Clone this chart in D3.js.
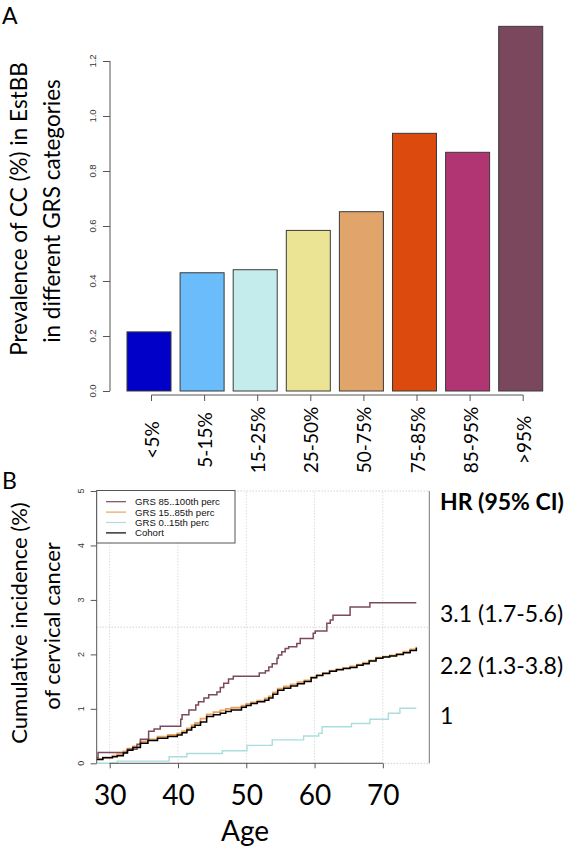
<!DOCTYPE html>
<html><head><meta charset="utf-8">
<script src="https://cdn.jsdelivr.net/npm/d3@7/dist/d3.min.js"></script>
<style>
html,body{margin:0;padding:0;background:#fff;}
svg{display:block;}
</style></head>
<body>
<svg id="chart" width="578" height="849"></svg>
<script>
// ---------- Panel A data ----------
const categories = ["<5%","5-15%","15-25%","25-50%","50-75%","75-85%","85-95%",">95%"];
const prevalence = [0.215,0.430,0.441,0.584,0.652,0.937,0.868,1.326];
const barColors = ["#0000C8","#6BBCFA","#C4ECEC","#EBE494","#E1A56B","#DD4A0E","#B03572","#7B475C"];
const yTicksA = [0,0.2,0.4,0.6,0.8,1.0,1.2];

// ---------- Panel B data ----------
const seriesNames = ["GRS 85..100th perc","GRS 15..85th perc","GRS 0..15th perc","Cohort"];
const seriesColors = ["#7B4A5E","#E9A35E","#A9DEDC","#000000"];
const highGRS = [[28.1,0.10],[28.3,0.20],[32.6,0.26],[34.0,0.35],[34.5,0.44],[35.7,0.59],[36.5,0.63],[37.4,0.68],[40.4,0.81],[40.6,0.89],[41.6,0.98],[42.6,1.07],[43.0,1.13],[43.8,1.20],[44.5,1.26],[45.7,1.31],[46.2,1.39],[46.7,1.47],[47.4,1.55],[48.1,1.60],[51.9,1.66],[52.8,1.70],[53.3,1.77],[53.8,1.83],[54.5,1.93],[54.7,1.99],[55.2,2.05],[55.7,2.11],[56.2,2.14],[57.4,2.20],[57.9,2.29],[59.8,2.39],[60.1,2.43],[61.8,2.57],[62.3,2.63],[62.7,2.72],[65.2,2.87],[68.1,2.95],[74.9,2.95]];
const midGRS = [[28.1,0.08],[29.0,0.11],[30.4,0.14],[31.1,0.17],[32.0,0.22],[32.6,0.27],[33.4,0.31],[34.5,0.40],[35.6,0.44],[37.0,0.49],[38.5,0.52],[39.9,0.55],[40.6,0.59],[41.3,0.64],[42.0,0.70],[42.5,0.74],[43.3,0.82],[44.2,0.90],[45.2,0.94],[46.2,0.97],[47.0,1.00],[47.8,1.02],[49.3,1.06],[50.0,1.09],[50.7,1.12],[51.6,1.15],[52.7,1.19],[53.3,1.23],[53.9,1.30],[54.6,1.37],[55.5,1.41],[56.5,1.45],[57.5,1.49],[58.5,1.52],[59.5,1.58],[60.3,1.62],[61.2,1.66],[62.2,1.70],[63.2,1.73],[64.2,1.75],[65.2,1.78],[66.2,1.81],[67.1,1.85],[68.0,1.89],[69.0,1.94],[70.0,1.96],[71.0,1.98],[72.0,2.01],[73.0,2.05],[74.0,2.09],[74.9,2.14]];
const lowGRS = [[28.1,0.00],[31.1,0.04],[38.7,0.12],[41.3,0.18],[46.5,0.23],[50.1,0.33],[53.8,0.43],[58.4,0.50],[60.6,0.55],[61.1,0.67],[65.4,0.73],[68.1,0.81],[70.8,0.92],[72.5,1.01],[74.9,1.01]];
const cohort = [[28.1,0.07],[29.0,0.10],[30.4,0.12],[31.1,0.14],[32.0,0.19],[32.6,0.24],[33.4,0.29],[34.5,0.37],[35.6,0.42],[37.0,0.46],[38.5,0.49],[39.9,0.52],[40.6,0.56],[41.3,0.61],[42.0,0.66],[42.5,0.70],[43.3,0.76],[44.2,0.86],[45.2,0.89],[46.2,0.92],[47.0,0.95],[47.8,0.98],[49.3,1.03],[50.0,1.06],[50.7,1.10],[51.6,1.13],[52.7,1.16],[53.3,1.20],[53.9,1.27],[54.6,1.34],[55.5,1.38],[56.5,1.42],[57.5,1.46],[58.5,1.50],[59.5,1.57],[60.3,1.61],[61.2,1.65],[62.2,1.69],[63.2,1.72],[64.2,1.74],[65.2,1.76],[66.2,1.80],[67.1,1.83],[68.0,1.88],[69.0,1.93],[70.0,1.95],[71.0,1.97],[72.0,2.00],[73.0,2.03],[74.0,2.07],[74.9,2.12]];
const xTicksB = [30,40,50,60,70];
const yTicksB = [0,1,2,3,4,5];
const gridYB = [0,2.5,5];
const hrLabels = ["HR (95% CI)","3.1 (1.7-5.6)","2.2 (1.3-3.8)","1"];

const svg = d3.select("#chart");
const titleFont = "Lato, 'Open Sans', sans-serif";
const smallFont = "'Liberation Sans', Arial, sans-serif";

function rtext(g, x, y, txt, size, opts={}) {
  return g.append("text")
    .attr("transform", `translate(${x},${y}) rotate(-90)`)
    .attr("text-anchor", opts.anchor || "middle")
    .attr("dominant-baseline", "central")
    .attr("font-family", opts.font || titleFont)
    .attr("font-size", size)
    .attr("font-weight", opts.weight || "normal")
    .attr("fill", opts.fill || "#000")
    .text(txt);
}

// ================= Panel A =================
const gA = svg.append("g");
gA.append("text").attr("x", 2).attr("y", 24).attr("font-family", titleFont).attr("font-size", 23).text("A");

const xA = d3.scaleBand().domain(categories).range([122.45, 547.25]).paddingInner(0.171).paddingOuter(0.0855);
const yA = d3.scaleLinear().domain([0, 1.2]).range([391, 61]);

gA.selectAll("rect.bar").data(categories).join("rect")
  .attr("class","bar")
  .attr("x", d => xA(d))
  .attr("width", xA.bandwidth())
  .attr("y", (d,i) => yA(prevalence[i]))
  .attr("height", (d,i) => yA(0) - yA(prevalence[i]))
  .attr("fill", (d,i) => barColors[i])
  .attr("stroke", "#3a3a3a")
  .attr("stroke-width", 1);

// y axis A
const yAxisA = d3.axisLeft(yA).tickValues(yTicksA).tickSize(7).tickFormat(d3.format(".1f"));
const gyA = gA.append("g").attr("transform","translate(110,0)").call(yAxisA);
gyA.select(".domain").attr("stroke","#555").attr("d", `M0,${yA(0)}V${yA(1.2)}`);
gyA.selectAll(".tick line").attr("stroke","#555");
gyA.selectAll(".tick text").remove();
yTicksA.forEach(v => rtext(gA, 92, yA(v), d3.format(".1f")(v), 9.5, {font: smallFont, fill:"#333"}));

// x axis A
const tickOff = 2.5;
const xTickPos = categories.map(c => xA(c) + xA.bandwidth()/2 + tickOff);
gA.append("line").attr("x1", xTickPos[0]).attr("x2", xTickPos[xTickPos.length-1])
  .attr("y1", 395).attr("y2", 395).attr("stroke","#555");
categories.forEach((c,i) => {
  gA.append("line").attr("x1", xTickPos[i]).attr("x2", xTickPos[i]).attr("y1",395).attr("y2",401).attr("stroke","#555");
  rtext(gA, xTickPos[i], 440, c, 19);
});

// y title A
rtext(gA, 18, 209, "Prevalence of CC (%) in EstBB", 22.5);
rtext(gA, 51, 211, "in different GRS categories", 22.5);

// ================= Panel B =================
const gB = svg.append("g");
gB.append("text").attr("x", 2).attr("y", 489).attr("font-family", titleFont).attr("font-size", 23).text("B");

const xB = d3.scaleLinear().domain([28.1, 76.8]).range([96.7, 429.3]);
const yB = d3.scaleLinear().domain([0, 5]).range([763.3, 491]);

// grid
xTicksB.forEach(v => gB.append("line").attr("x1", xB(v)).attr("x2", xB(v)).attr("y1", yB(0)).attr("y2", yB(5))
  .attr("stroke","#ccc").attr("stroke-dasharray","1,2").attr("stroke-width",1));
gridYB.forEach(v => gB.append("line").attr("x1", xB.range()[0]).attr("x2", xB.range()[1]).attr("y1", yB(v)).attr("y2", yB(v))
  .attr("stroke","#bbb").attr("stroke-dasharray","1,2").attr("stroke-width",1));
// right border
gB.append("line").attr("x1", xB.range()[1]).attr("x2", xB.range()[1]).attr("y1", yB(0)).attr("y2", yB(5)).attr("stroke","#777");

// lines
const lineGen = d3.line().x(d => xB(d[0])).y(d => yB(d[1])).curve(d3.curveStepAfter);
const seriesData = [lowGRS, midGRS, highGRS, cohort];
const seriesCol = [seriesColors[2], seriesColors[1], seriesColors[0], seriesColors[3]];
const seriesW = [1.4, 1.8, 1.5, 1.5];
seriesData.forEach((s,i) => gB.append("path").datum(s).attr("d", lineGen)
  .attr("fill","none").attr("stroke", seriesCol[i]).attr("stroke-width", seriesW[i]));

// y axis B
const gyB = gB.append("g").attr("transform", `translate(${xB.range()[0]},0)`)
  .call(d3.axisLeft(yB).tickValues(yTicksB).tickSize(6).tickFormat(d3.format("d")));
gyB.select(".domain").attr("stroke","#555").attr("d", `M0,${yB(0)}V${yB(5)}`);
gyB.selectAll(".tick line").attr("stroke","#555");
gyB.selectAll(".tick text").remove();
yTicksB.forEach(v => rtext(gB, 81, yB(v), String(v), 9, {font: smallFont, fill:"#333"}));

// x axis B
const gxB = gB.append("g").attr("transform", `translate(0,${yB(0)})`)
  .call(d3.axisBottom(xB).tickValues(xTicksB).tickSize(5).tickFormat(d3.format("d")));
gxB.select(".domain").attr("stroke","#555").attr("d", `M${xB(30)},0H${xB(70)}`);
gxB.selectAll(".tick line").attr("stroke","#555");
gxB.selectAll(".tick text").attr("y", 0).attr("dy", null).attr("transform","translate(0,42)")
  .attr("font-family", titleFont).attr("font-size", 28).attr("fill","#000");
gB.append("text").attr("x", 245).attr("y", 841).attr("text-anchor","middle")
  .attr("font-family", titleFont).attr("font-size", 28).text("Age");

// y title B
rtext(gB, 18, 623, "Cumulative incidence (%)", 22);
rtext(gB, 51, 626, "of cervical cancer", 22);

// legend
const leg = gB.append("g");
leg.append("rect").attr("x", xB.range()[0]).attr("y", 490.5).attr("width", 235 - xB.range()[0]).attr("height", 52.5)
  .attr("fill","#fff").attr("stroke","#555").attr("stroke-width",1);
seriesNames.forEach((n,i) => {
  const yy = 501.7 + i*10.4;
  leg.append("line").attr("x1",106).attr("x2",126).attr("y1",yy).attr("y2",yy).attr("stroke", seriesColors[i]).attr("stroke-width",1.2);
  leg.append("text").attr("x",135).attr("y",yy).attr("dominant-baseline","central")
    .attr("font-family", smallFont).attr("font-size",9.6).attr("fill","#111").text(n);
});

// HR annotations
const hrY = [501, 613, 665, 715];
hrLabels.forEach((t,i) => gB.append("text").attr("x", 440).attr("y", hrY[i]).attr("dominant-baseline","central")
  .attr("font-family", titleFont).attr("font-size", 23).attr("font-weight", i===0 ? "bold" : "normal").text(t));
</script>
</body></html>
